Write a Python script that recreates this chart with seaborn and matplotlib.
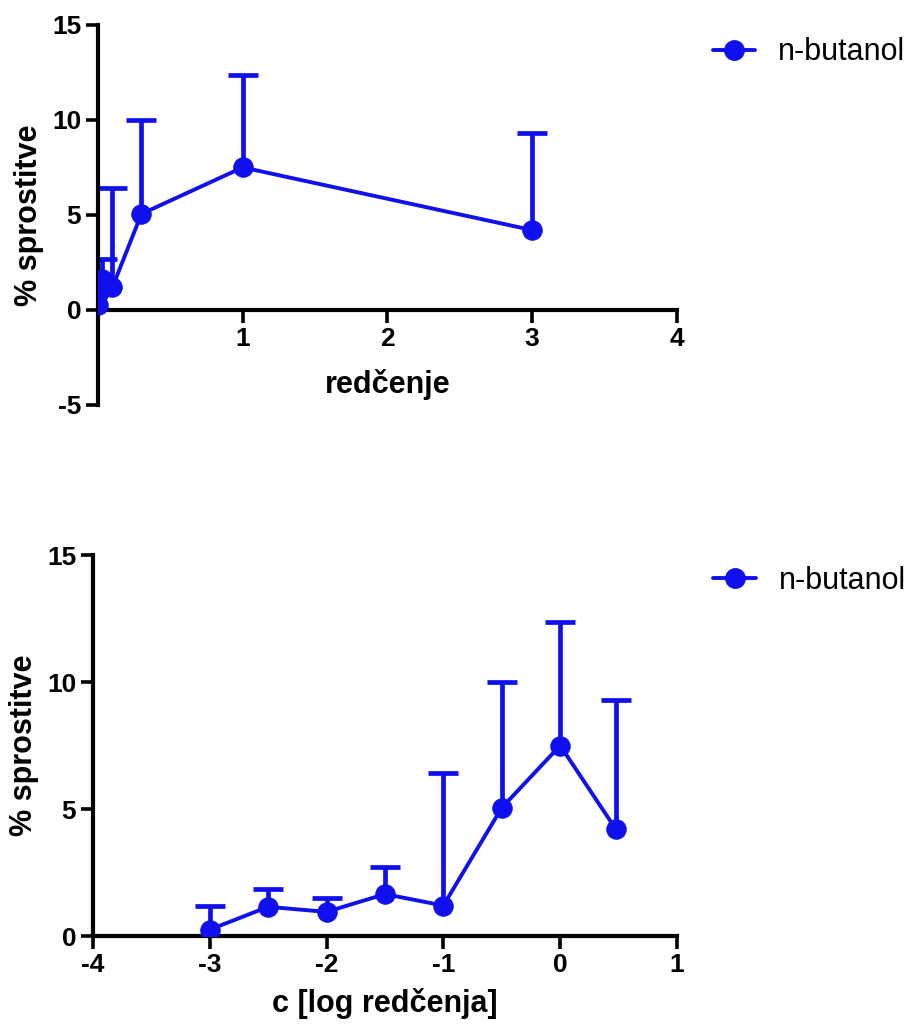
import numpy as np
import pandas as pd
import matplotlib
matplotlib.use("Agg")
import matplotlib.pyplot as plt
import seaborn as sns
from matplotlib.lines import Line2D

sns.set_style("ticks")
plt.rcParams['font.family'] = ['Liberation Sans', 'DejaVu Sans']
plt.rcParams['axes.unicode_minus'] = False
plt.rcParams['text.color'] = 'black'
plt.rcParams['axes.labelcolor'] = 'black'
plt.rcParams['xtick.color'] = 'black'
plt.rcParams['ytick.color'] = 'black'

dilution = [0.001, 0.003, 0.01, 0.03, 0.1, 0.3, 1.0, 3.0]
log_dilution = [-3.0, -2.5, -2.0, -1.5, -1.0, -0.5, 0.0, 0.477]
release = [0.25, 1.15, 0.95, 1.65, 1.2, 5.05, 7.5, 4.2]
upper_err = [0.95, 0.7, 0.55, 1.05, 5.2, 4.95, 4.85, 5.1]
series_name = "n-butanol"

BLUE = "#1010ee"
TICK_FS = 19
LABEL_FS = 22
LEG_FS = 22

fig = plt.figure(figsize=(9.1, 10.25), dpi=100)
ax1 = fig.add_axes([0.1077, 0.605, 0.636, 0.3707])
ax2 = fig.add_axes([0.102, 0.0868, 0.642, 0.3717])

def draw(ax, x, leg_y):
    df = pd.DataFrame({"x": x, "y": release})
    eb = ax.errorbar(x, release, yerr=[np.zeros(len(release)), upper_err], fmt="none",
                     ecolor=BLUE, elinewidth=3.4, capsize=11, capthick=3.4, zorder=2)
    # keep only the upper caps
    for cap in eb[1]:
        if np.allclose(cap.get_ydata(), release):
            cap.set_visible(False)
    sns.lineplot(data=df, x="x", y="y", ax=ax, color=BLUE, marker="o", markersize=14,
                 markeredgecolor=BLUE, linewidth=2.8, zorder=3, legend=False)
    for s in ["top", "right"]:
        ax.spines[s].set_visible(False)
    for s in ["left", "bottom"]:
        ax.spines[s].set_linewidth(3)
        ax.spines[s].set_color("black")
    ax.tick_params(axis="both", direction="out", length=9, width=2.6,
                   labelsize=TICK_FS, pad=3, colors="black")
    ax.set_ylabel("% sprostitve", fontsize=LABEL_FS, fontweight="bold", labelpad=6,
                  color="black")
    handle = Line2D([], [], color=BLUE, marker="o", markersize=14, linewidth=2.8)
    leg = ax.legend([handle], [series_name], loc="center left", bbox_to_anchor=(1.062, leg_y),
                    frameon=False, fontsize=LEG_FS, handlelength=1.4, handletextpad=0.75,
                    borderaxespad=0, borderpad=0)
    for t in leg.get_texts():
        t.set_color("black")

# top
draw(ax1, dilution, 0.928)
ax1.set_xlim(0, 4)
ax1.set_ylim(-5, 15)
ax1.set_xticks([1, 2, 3, 4])
ax1.set_yticks([-5, 0, 5, 10, 15])
ax1.spines["bottom"].set_position(("data", 0))
for lab in ax1.get_xticklabels() + ax1.get_yticklabels():
    lab.set_fontweight("bold")
ax1.set_xlabel("redčenje", fontsize=LABEL_FS, fontweight="bold", color="black")
ax1.xaxis.set_label_coords(0.5, 0.095)

# bottom
draw(ax2, log_dilution, 0.932)
ax2.set_xlim(-4, 1)
ax2.set_ylim(0, 15)
ax2.set_xticks([-4, -3, -2, -1, 0, 1])
ax2.set_yticks([0, 5, 10, 15])
for lab in ax2.get_xticklabels() + ax2.get_yticklabels():
    lab.set_fontweight("bold")
ax2.set_xlabel("c [log redčenja]", fontsize=LABEL_FS, fontweight="bold", labelpad=8,
               color="black")

fig.savefig("out.png", dpi=100)
